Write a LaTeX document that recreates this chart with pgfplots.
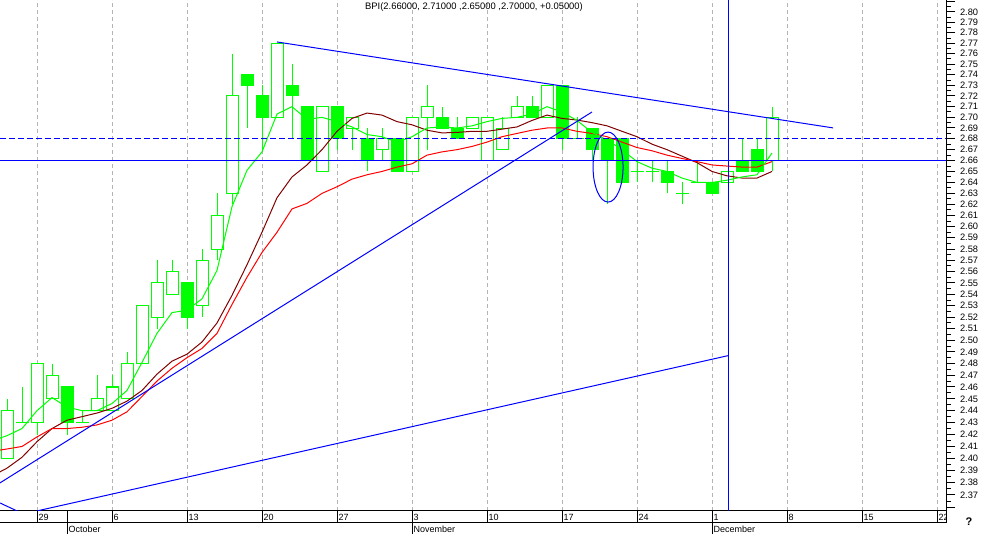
\documentclass[border=0pt]{standalone}
\usepackage{pgfplots}
\usepackage{pgfplotstable}
\usepackage{fontspec}
\setmainfont{Liberation Sans}
\pgfplotsset{compat=1.18}
\definecolor{cgreen}{RGB}{0,255,0}
\definecolor{cred}{RGB}{255,0,0}
\definecolor{cmaroon}{RGB}{128,0,0}
\definecolor{cblue}{RGB}{0,0,255}
\definecolor{cgrid}{RGB}{180,180,180}

% hollow (up) candles
\pgfplotstableread{
i o h l c
-2 2.40 2.45 2.40 2.44
0 2.43 2.48 2.42 2.48
1 2.45 2.48 2.45 2.47
4 2.44 2.47 2.44 2.45
5 2.44 2.47 2.44 2.46
6 2.45 2.49 2.45 2.48
7 2.48 2.53 2.48 2.53
8 2.52 2.57 2.51 2.55
9 2.54 2.57 2.54 2.56
11 2.53 2.58 2.52 2.57
12 2.58 2.63 2.57 2.61
13 2.63 2.76 2.62 2.72
16 2.70 2.77 2.70 2.77
19 2.65 2.71 2.65 2.71
21 2.69 2.70 2.67 2.70
23 2.67 2.69 2.66 2.68
25 2.65 2.70 2.65 2.70
26 2.70 2.73 2.67 2.71
29 2.69 2.70 2.69 2.70
30 2.66 2.70 2.66 2.70
31 2.67 2.70 2.67 2.69
32 2.70 2.72 2.70 2.71
34 2.70 2.73 2.70 2.73
46 2.64 2.65 2.64 2.65
49 2.66 2.71 2.65 2.70
}\upcandles

% filled (down) candles and dojis
\pgfplotstableread{
i o h l c
-1 2.43 2.46 2.43 2.43
2 2.46 2.46 2.42 2.43
3 2.43 2.44 2.43 2.43
10 2.55 2.55 2.51 2.52
14 2.74 2.74 2.69 2.73
15 2.72 2.73 2.67 2.70
17 2.73 2.75 2.68 2.72
18 2.71 2.71 2.66 2.66
20 2.71 2.71 2.67 2.68
22 2.68 2.69 2.65 2.66
24 2.68 2.68 2.65 2.65
27 2.70 2.71 2.69 2.69
28 2.69 2.70 2.68 2.68
33 2.71 2.72 2.70 2.70
35 2.73 2.73 2.67 2.68
36 2.68 2.70 2.68 2.68
37 2.69 2.69 2.66 2.67
38 2.68 2.68 2.62 2.66
39 2.68 2.68 2.64 2.64
40 2.65 2.66 2.64 2.65
41 2.65 2.66 2.64 2.65
42 2.65 2.66 2.63 2.64
43 2.63 2.64 2.62 2.63
44 2.64 2.66 2.64 2.64
45 2.64 2.64 2.63 2.63
47 2.66 2.68 2.65 2.65
48 2.67 2.68 2.65 2.65
}\downcandles

\begin{document}
\begin{tikzpicture}[font=\fontsize{9}{10}\selectfont]
\begin{axis}[
  scale only axis, width=946pt, height=511pt,
  xmin=-2.4667, xmax=60.6,
  ymode=log, ymin=2.35696, ymax=2.81162,
  axis x line*=bottom, axis y line*=right,
  axis line style={black, line width=1pt},
  xtick={0,5,...,60}, xticklabels={}, xtick style={draw=none},
  xmajorgrids, major grid style={cgrid, dash pattern=on 4pt off 3pt, line width=1pt},
  ytick={2.36,2.37,2.38,2.39,2.40,2.41,2.42,2.43,2.44,2.45,2.46,2.47,2.48,2.49,2.50,2.51,2.52,2.53,2.54,2.55,2.56,2.57,2.58,2.59,2.60,2.61,2.62,2.63,2.64,2.65,2.66,2.67,2.68,2.69,2.70,2.71,2.72,2.73,2.74,2.75,2.76,2.77,2.78,2.79,2.80,2.81},
  yticklabels={{},2.37,2.38,2.39,2.40,2.41,2.42,2.43,2.44,2.45,2.46,2.47,2.48,2.49,2.50,2.51,2.52,2.53,2.54,2.55,2.56,2.57,2.58,2.59,2.60,2.61,2.62,2.63,2.64,2.65,2.66,2.67,2.68,2.69,2.70,2.71,2.72,2.73,2.74,2.75,2.76,2.77,2.78,2.79,2.80,{}},
  minor ytick={2.365,2.375,2.385,2.395,2.405,2.415,2.425,2.435,2.445,2.455,2.465,2.475,2.485,2.495,2.505,2.515,2.525,2.535,2.545,2.555,2.565,2.575,2.585,2.595,2.605,2.615,2.625,2.635,2.645,2.655,2.665,2.675,2.685,2.695,2.705,2.715,2.725,2.735,2.745,2.755,2.765,2.775,2.785,2.795,2.805},
  tick align=outside, major tick length=9pt, minor tick length=4.5pt,
  ytick style={black, line width=1pt},
  yticklabel style={anchor=west, xshift=1.5pt, font=\fontsize{9.3}{10}\selectfont},
  /pgf/number format/assume math mode=true,
]
% wicks
\addplot[draw=none, mark=none, error bars/.cd, y dir=plus, y explicit, error mark=none,
  error bar style={line width=1pt, draw=cgreen}]
  table[x=i, y=l, y error plus expr=\thisrow{h}-\thisrow{l}] {\upcandles};
\addplot[draw=none, mark=none, error bars/.cd, y dir=plus, y explicit, error mark=none,
  error bar style={line width=1pt, draw=cgreen}]
  table[x=i, y=l, y error plus expr=\thisrow{h}-\thisrow{l}] {\downcandles};
% filled bodies
\addplot[draw=none, mark=none, error bars/.cd, y dir=plus, y explicit, error mark=none,
  error bar style={line width=13pt, draw=cgreen}]
  table[x=i, y expr=\thisrow{c}*0.99983, y error plus expr=\thisrow{o}*1.00017-\thisrow{c}*0.99983] {\downcandles};
% hollow bodies
\addplot[draw=none, mark=none, error bars/.cd, y dir=plus, y explicit, error mark=none,
  error bar style={line width=13pt, draw=cgreen}]
  table[x=i, y expr=\thisrow{o}*0.99983, y error plus expr=\thisrow{c}*1.00017-\thisrow{o}*0.99983] {\upcandles};
\addplot[draw=none, mark=none, error bars/.cd, y dir=plus, y explicit, error mark=none,
  error bar style={line width=11pt, draw=white}]
  table[x=i, y expr=\thisrow{o}*1.00017, y error plus expr=\thisrow{c}*0.99983-\thisrow{o}*1.00017] {\upcandles};

% moving averages
\addplot[cmaroon, line width=1pt] coordinates {(-2.4667,2.389) (-2,2.392) (-1,2.401) (0,2.414) (1,2.425) (2,2.432) (3,2.435) (4,2.438) (5,2.442) (6,2.448) (7,2.457) (8,2.471) (9,2.482) (10,2.488) (11,2.4985) (12,2.515) (13,2.539) (14,2.566) (15,2.595) (16,2.626) (17,2.645) (18,2.656) (19,2.670) (20,2.687) (21,2.699) (22,2.704) (23,2.702) (24,2.696) (25,2.693) (26,2.688) (27,2.6855) (28,2.686) (29,2.687) (30,2.687) (31,2.689) (32,2.691) (33,2.697) (34,2.702) (35,2.699) (36,2.6975) (37,2.695) (38,2.692) (39,2.687) (40,2.682) (41,2.675) (42,2.670) (43,2.664) (44,2.658) (45,2.650) (46,2.646) (47,2.644) (48,2.644) (49,2.650)};
\addplot[cred, line width=1pt] coordinates {(-2.4667,2.407) (-2,2.408) (-1,2.410) (0,2.418) (1,2.425) (2,2.425) (3,2.426) (4,2.428) (5,2.432) (6,2.439) (7,2.452) (8,2.465) (9,2.476) (10,2.485) (11,2.493) (12,2.506) (13,2.531) (14,2.555) (15,2.577) (16,2.595) (17,2.616) (18,2.621) (19,2.630) (20,2.636) (21,2.643) (22,2.647) (23,2.650) (24,2.654) (25,2.657) (26,2.665) (27,2.668) (28,2.670) (29,2.673) (30,2.677) (31,2.682) (32,2.685) (33,2.688) (34,2.690) (35,2.690) (36,2.687) (37,2.685) (38,2.682) (39,2.677) (40,2.672) (41,2.669) (42,2.665) (43,2.662) (44,2.659) (45,2.656) (46,2.655) (47,2.654) (48,2.654) (49,2.659)};
\addplot[cgreen, line width=1pt] coordinates {(-2.4667,2.417) (-2,2.419) (-1,2.425) (0,2.440) (1,2.451) (2,2.443) (3,2.440) (4,2.440) (5,2.446) (6,2.457) (7,2.481) (8,2.506) (9,2.524) (10,2.526) (11,2.536) (12,2.561) (13,2.618) (14,2.651) (15,2.668) (16,2.703) (17,2.710) (18,2.698) (19,2.700) (20,2.696) (21,2.691) (22,2.684) (23,2.682) (24,2.677) (25,2.682) (26,2.690) (27,2.691) (28,2.690) (29,2.692) (30,2.696) (31,2.699) (32,2.700) (33,2.703) (34,2.710) (35,2.705) (36,2.697) (37,2.686) (38,2.679) (39,2.670) (40,2.659) (41,2.653) (42,2.650) (43,2.644) (44,2.640) (45,2.640) (46,2.642) (47,2.645) (48,2.647) (49,2.667)};

% trend lines
\addplot[cblue, line width=1pt] coordinates {(16,2.7712) (53.07,2.6901)};
\addplot[cblue, line width=1pt] coordinates {(-2.4667,2.3799) (37,2.7050)};
\addplot[cblue, line width=1pt] coordinates {(0,2.3570) (46.07,2.4868)};
\addplot[cblue, line width=1pt] coordinates {(-2.4667,2.3635) (-1.3333,2.3570)};
% horizontal and vertical lines
\addplot[cblue, line width=1pt, dash pattern=on 6pt off 3pt] coordinates {(-2.4667,2.68) (60.6,2.68)};
\addplot[cblue, line width=1pt] coordinates {(-2.4667,2.66) (60.6,2.66)};
\addplot[cblue, line width=1pt] coordinates {(46.07,2.35696) (46.07,2.81162)};
\draw[cblue, line width=1pt] (axis cs:38.07,2.654) ellipse [x radius=15pt, y radius=35pt];

\coordinate (TL) at (rel axis cs:0,1);
\end{axis}
\begin{scope}[shift={(TL)}, x=1pt, y=-1pt]
  \draw[line width=1pt] (0,523) -- (946,523);
  \draw[line width=1pt] (946,511) -- (946,523);
  \begin{scope}
    \clip (0,511) rectangle (946,534);
    \foreach \X/\L in {37/29,112/6,187/13,262/20,337/27,412/3,487/10,562/17,637/24,712/1,787/8,862/15,937/22}{
      \draw[line width=1pt] (\X,511) -- (\X,523);
      \node[anchor=west, inner sep=0pt] at (\X+1.5,517.5) {\L};
    }
    \foreach \X/\M in {67/October,412/November,712/December}{
      \draw[line width=1pt] (\X,511) -- (\X,534);
      \node[anchor=west, inner sep=0pt] at (\X+1.5,529) {\M};
    }
  \end{scope}
  \node[font=\bfseries\fontsize{11}{12}\selectfont] at (969,522) {?};
  \node[font=\fontsize{9.4}{10}\selectfont] at (474,7.5) {BPI(2.66000, 2.71000 ,2.65000 ,2.70000, +0.05000)};
  \pgfresetboundingbox
  \path[use as bounding box] (0,0) rectangle (986,534);
\end{scope}
\end{tikzpicture}
\end{document}
